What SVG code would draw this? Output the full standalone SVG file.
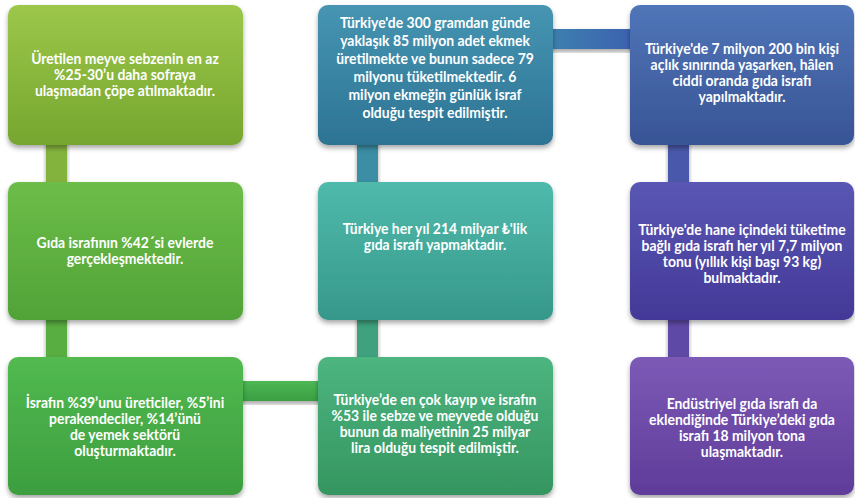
<svg xmlns="http://www.w3.org/2000/svg" width="855" height="498" viewBox="0 0 855 498">
<defs>
<filter id="sh" x="-10%" y="-10%" width="120%" height="130%">
<feDropShadow dx="0" dy="3" stdDeviation="2.5" flood-color="#000" flood-opacity="0.35"/>
</filter>
<linearGradient id="g11" x1="0" y1="0" x2="0" y2="1"><stop offset="0" stop-color="#9CC74A"/><stop offset="1" stop-color="#76A62F"/></linearGradient>
<linearGradient id="g12" x1="0" y1="0" x2="0" y2="1"><stop offset="0" stop-color="#6CBD48"/><stop offset="1" stop-color="#51A338"/></linearGradient>
<linearGradient id="g13" x1="0" y1="0" x2="0" y2="1"><stop offset="0" stop-color="#52BA50"/><stop offset="1" stop-color="#3C9E3E"/></linearGradient>
<linearGradient id="g21" x1="0" y1="0" x2="0" y2="1"><stop offset="0" stop-color="#4695B2"/><stop offset="1" stop-color="#2D7394"/></linearGradient>
<linearGradient id="g22" x1="0" y1="0" x2="0" y2="1"><stop offset="0" stop-color="#4FBAAC"/><stop offset="1" stop-color="#36988A"/></linearGradient>
<linearGradient id="g23" x1="0" y1="0" x2="0" y2="1"><stop offset="0" stop-color="#4DB580"/><stop offset="1" stop-color="#359560"/></linearGradient>
<linearGradient id="g31" x1="0" y1="0" x2="0" y2="1"><stop offset="0" stop-color="#5075B8"/><stop offset="1" stop-color="#385495"/></linearGradient>
<linearGradient id="g32" x1="0" y1="0" x2="0" y2="1"><stop offset="0" stop-color="#5A57B4"/><stop offset="1" stop-color="#433897"/></linearGradient>
<linearGradient id="g33" x1="0" y1="0" x2="0" y2="1"><stop offset="0" stop-color="#7C5AB6"/><stop offset="1" stop-color="#5F3C99"/></linearGradient>
<linearGradient id="hb" x1="0" y1="0" x2="0" y2="1"><stop offset="0" stop-color="#4DB854"/><stop offset="1" stop-color="#3A9E42"/></linearGradient>
<linearGradient id="ht" x1="0" y1="0" x2="1" y2="0"><stop offset="0" stop-color="#3C80AE"/><stop offset="1" stop-color="#3E62B0"/></linearGradient>
</defs>
<style>
.box{filter:url(#sh)}
.t{font-family:"Lato","Liberation Sans",sans-serif;font-weight:700;font-size:15px;fill:#FFFFFF;text-anchor:middle}
.c{filter:url(#sh)}
</style>
<rect width="855" height="498" fill="#FFFFFF"/>
<g id="connectors">
<rect class="c" x="46" y="140" width="21" height="46" fill="#84B33C"/>
<rect class="c" x="46" y="315" width="21" height="46" fill="#58AE40"/>
<rect class="c" x="238" y="381" width="84" height="20" fill="url(#hb)"/>
<rect class="c" x="357" y="315" width="21" height="46" fill="#3FA17E"/>
<rect class="c" x="357" y="140" width="21" height="46" fill="#3A8EA4"/>
<rect class="c" x="548" y="29" width="86" height="20" fill="url(#ht)"/>
<rect class="c" x="668" y="140" width="21" height="46" fill="#4958AA"/>
<rect class="c" x="668" y="315" width="21" height="46" fill="#5E48A6"/>
</g>
<g id="n11"><rect class="box" x="8" y="5" width="235" height="140" rx="10" fill="url(#g11)"/>
<text class="t" transform="matrix(0.93 0 0 1 8.75 0)"><tspan x="125" y="64">Üretilen meyve sebzenin en az</tspan><tspan x="125" y="80">%25-30’u daha sofraya</tspan><tspan x="125" y="96">ulaşmadan çöpe atılmaktadır.</tspan></text></g>
<g id="n12"><rect class="box" x="8" y="182" width="235" height="138" rx="10" fill="url(#g12)"/>
<text class="t" transform="matrix(0.93 0 0 1 8.75 0)"><tspan x="125" y="248">Gıda israfının %42´si evlerde</tspan><tspan x="125" y="264">gerçekleşmektedir.</tspan></text></g>
<g id="n13"><rect class="box" x="8" y="357" width="235" height="138" rx="10" fill="url(#g13)"/>
<text class="t" transform="matrix(0.93 0 0 1 8.75 0)"><tspan x="125" y="408">İsrafın %39’unu üreticiler, %5’ini</tspan><tspan x="125" y="424">perakendeciler, %14’ünü</tspan><tspan x="125" y="440">de yemek sektörü</tspan><tspan x="125" y="456">oluşturmaktadır.</tspan></text></g>
<g id="n21"><rect class="box" x="318" y="5" width="235" height="140" rx="10" fill="url(#g21)"/>
<text class="t" transform="matrix(0.93 0 0 1 30.45 0)"><tspan x="435" y="28">Türkiye'de 300 gramdan günde</tspan><tspan x="435" y="46">yaklaşık 85 milyon adet ekmek</tspan><tspan x="435" y="64">üretilmekte ve bunun sadece 79</tspan><tspan x="435" y="82">milyonu tüketilmektedir. 6</tspan><tspan x="435" y="100">milyon ekmeğin günlük israf</tspan><tspan x="435" y="118">olduğu tespit edilmiştir.</tspan></text></g>
<g id="n22"><rect class="box" x="318" y="182" width="235" height="138" rx="10" fill="url(#g22)"/>
<text class="t" transform="matrix(0.93 0 0 1 30.45 0)"><tspan x="435" y="234">Türkiye her yıl 214 milyar ₺'lik</tspan><tspan x="435" y="250">gıda israfı yapmaktadır.</tspan></text></g>
<g id="n23"><rect class="box" x="318" y="357" width="235" height="138" rx="10" fill="url(#g23)"/>
<text class="t" transform="matrix(0.93 0 0 1 30.45 0)"><tspan x="435" y="405">Türkiye’de en çok kayıp ve israfın</tspan><tspan x="435" y="421">%53 ile sebze ve meyvede olduğu</tspan><tspan x="435" y="437">bunun da maliyetinin 25 milyar</tspan><tspan x="435" y="453">lira olduğu tespit edilmiştir.</tspan></text></g>
<g id="n31"><rect class="box" x="630" y="5" width="224" height="140" rx="10" fill="url(#g31)"/>
<text class="t" transform="matrix(0.93 0 0 1 51.94 0)"><tspan x="742" y="54">Türkiye'de 7 milyon 200 bin kişi</tspan><tspan x="742" y="70">açlık sınırında yaşarken, hâlen</tspan><tspan x="742" y="86">ciddi oranda gıda israfı</tspan><tspan x="742" y="102">yapılmaktadır.</tspan></text></g>
<g id="n32"><rect class="box" x="630" y="182" width="224" height="138" rx="10" fill="url(#g32)"/>
<text class="t" transform="matrix(0.93 0 0 1 51.94 0)"><tspan x="742" y="235">Türkiye'de hane içindeki tüketime</tspan><tspan x="742" y="251">bağlı gıda israfı her yıl 7,7 milyon</tspan><tspan x="742" y="267">tonu (yıllık kişi başı 93 kg)</tspan><tspan x="742" y="283">bulmaktadır.</tspan></text></g>
<g id="n33"><rect class="box" x="630" y="357" width="224" height="138" rx="10" fill="url(#g33)"/>
<text class="t" transform="matrix(0.93 0 0 1 51.94 0)"><tspan x="742" y="409">Endüstriyel gıda israfı da</tspan><tspan x="742" y="425">eklendiğinde Türkiye’deki gıda</tspan><tspan x="742" y="441">israfı 18 milyon tona</tspan><tspan x="742" y="457">ulaşmaktadır.</tspan></text></g>
</svg>
